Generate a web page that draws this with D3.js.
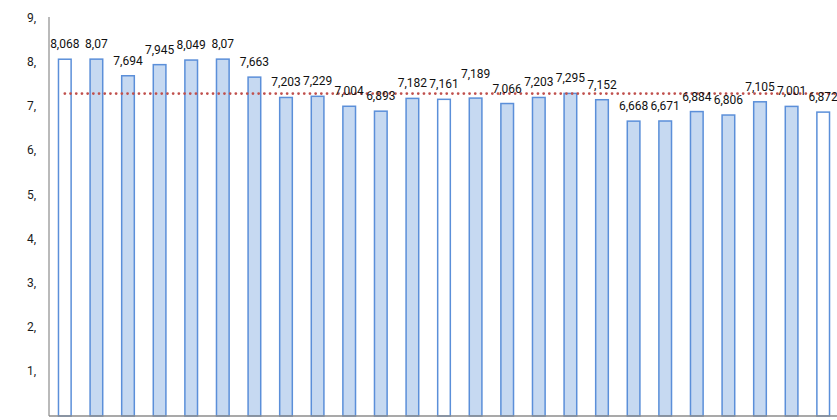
<!DOCTYPE html>
<html>
<head>
<meta charset="utf-8">
<script src="https://cdn.jsdelivr.net/npm/d3@7/dist/d3.min.js"></script>
<style>
  body { margin: 0; background: #fff; }
  svg { display: block; font-family: Roboto, "Liberation Sans", sans-serif; }
</style>
</head>
<body>
<div id="chart"></div>
<script>
// Values, one bar each
var values = [8.068, 8.07, 7.694, 7.945, 8.049, 8.07, 7.663, 7.203, 7.229, 7.004,
              6.893, 7.182, 7.161, 7.189, 7.066, 7.203, 7.295, 7.152, 6.668, 6.671,
              6.884, 6.806, 7.105, 7.001, 6.872];
// Bars drawn hollow (white fill)
var hollow = [0, 12, 24];
// Value labels as shown (Excel drops trailing zeros)
var labels = ["8,068", "8,07", "7,694", "7,945", "8,049", "8,07", "7,663", "7,203", "7,229", "7,004",
              "6,893", "7,182", "7,161", "7,189", "7,066", "7,203", "7,295", "7,152", "6,668", "6,671",
              "6,884", "6,806", "7,105", "7,001", "6,872"];
var yTicks = [0, 1, 2, 3, 4, 5, 6, 7, 8, 9];
var yTickLabels = ["0,", "1,", "2,", "3,", "4,", "5,", "6,", "7,", "8,", "9,"];
var average = 7.29;

var width = 837, height = 420;
var margin = {top: 18, left: 49, bottom: 4};

var svg = d3.select("#chart").append("svg")
    .attr("width", width)
    .attr("height", height);

var x = d3.scaleBand()
    .domain(d3.range(values.length))
    .range([margin.left, margin.left + 31.6 * values.length])
    .paddingInner(0.6)
    .paddingOuter(0.3);

var y = d3.scaleLinear()
    .domain([0, 9])
    .range([height - margin.bottom, margin.top]);

// y tick labels (the "0," one sits mostly below the picture's edge)
svg.append("g").selectAll("text")
    .data(yTicks)
    .enter().append("text")
    .attr("x", 36)
    .attr("y", function(d) { return d === 0 ? y(d) + 12 : y(d) - 0.5; })
    .attr("dy", "0.35em")
    .attr("text-anchor", "end")
    .style("font-size", "12px")
    .style("fill", "#1a1a1a")
    .text(function(d, i) { return yTickLabels[i]; });

// bars
svg.append("g").selectAll("rect")
    .data(values)
    .enter().append("rect")
    .attr("x", function(d, i) { return x(i); })
    .attr("y", function(d) { return y(d); })
    .attr("width", x.bandwidth())
    .attr("height", function(d) { return y(0) - y(d); })
    .style("fill", function(d, i) { return hollow.indexOf(i) >= 0 ? "#ffffff" : "#c6d9f1"; })
    .style("stroke", "#5b8fd9")
    .style("stroke-width", 1.5);

// axes lines
svg.append("line")
    .attr("x1", margin.left).attr("x2", margin.left)
    .attr("y1", y(9) - 1).attr("y2", y(0))
    .style("stroke", "#8c8c8c").style("stroke-width", 1.2);
svg.append("line")
    .attr("x1", margin.left).attr("x2", width)
    .attr("y1", y(0)).attr("y2", y(0))
    .style("stroke", "#8c8c8c").style("stroke-width", 1.5);

// average dotted line
svg.append("line")
    .attr("x1", x(0) + x.bandwidth() / 2)
    .attr("x2", width)
    .attr("y1", y(average)).attr("y2", y(average))
    .style("stroke", "#c0504d")
    .style("stroke-width", 2.7)
    .style("stroke-linecap", "round")
    .style("stroke-dasharray", "0.1,5.6");

// value labels; one label was nudged up in the original
var lift = {13: 9};
svg.append("g").selectAll("text")
    .data(values)
    .enter().append("text")
    .attr("x", function(d, i) { return x(i) + x.bandwidth() / 2; })
    .attr("y", function(d, i) { return y(d) - 11 - (lift[i] || 0); })
    .attr("text-anchor", "middle")
    .style("font-size", "12px")
    .style("fill", "#111")
    .text(function(d, i) { return labels[i]; });
</script>
</body>
</html>
